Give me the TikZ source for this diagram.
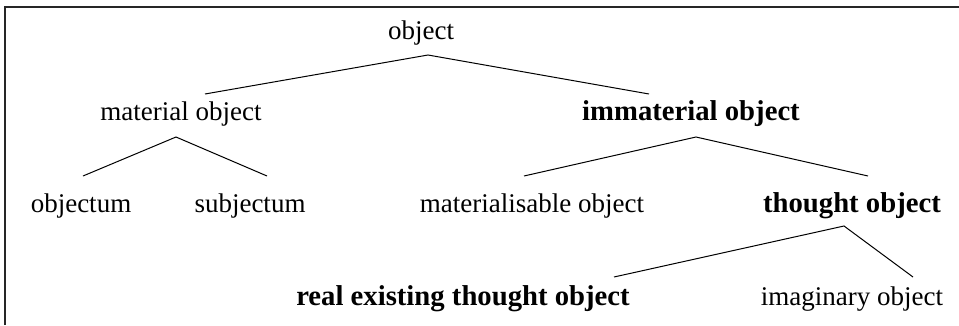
\documentclass[tikz,border=0pt]{standalone}
\usepackage{fontspec}
\setmainfont{Liberation Serif}
\usetikzlibrary{calc}
\begin{document}
\begin{tikzpicture}[x=1pt,y=-1pt,
  lbl/.style={anchor=base,inner sep=0pt,font=\fontsize{27}{32}\selectfont},
  blbl/.style={anchor=base,inner sep=0pt,font=\fontsize{28.7}{34}\selectfont\bfseries},
  edge/.style={line width=1pt,black}]
\useasboundingbox (0,0) rectangle (959,325);
\draw[line width=1.5pt,black!85] (5,325) -- (5,7) -- (959,7);
% nodes
\node[lbl]  (obj)   at (421,39)  {object};
\node[lbl]  (mat)   at (181,120) {material object};
\node[blbl] (imm)   at (691,120) {immaterial object};
\node[lbl]  (objt)  at (81,212)  {objectum};
\node[lbl]  (subj)  at (250,212) {subjectum};
\node[lbl]  (matz)  at (532,212) {materialisable object};
\node[blbl] (thou)  at (852,212) {thought object};
\node[blbl] (real)  at (463,305) {real existing thought object};
\node[lbl]  (imag)  at (852,305) {imaginary object};
% connectors
\draw[edge] ($(mat.base)+(24,-26)$) -- ($(obj.base)+(7,16)$) -- ($(imm.base)+(-42,-26)$);
\draw[edge] ($(objt.base)+(2,-36)$) -- ($(mat.base)+(-5,17)$) -- ($(subj.base)+(17,-36)$);
\draw[edge] ($(matz.base)+(-8,-36)$) -- ($(imm.base)+(5,17)$) -- ($(thou.base)+(16,-36)$);
\draw[edge] ($(real.base)+(151,-28)$) -- ($(thou.base)+(-8,14)$) -- ($(imag.base)+(61,-28)$);
\end{tikzpicture}
\end{document}
